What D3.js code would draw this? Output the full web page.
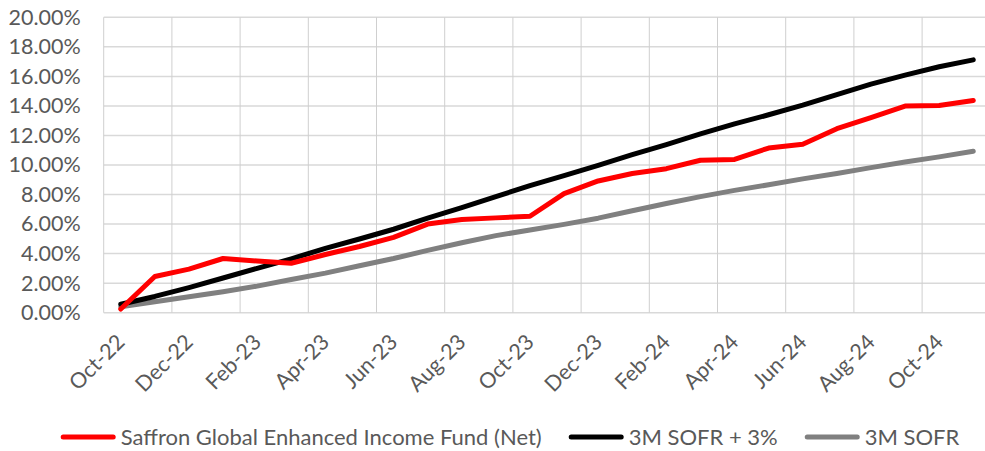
<!DOCTYPE html>
<html>
  <head>
    <title>Saffron vs SOFR</title>
    <style>
      body { margin: 0; background: #fff; }
      text { font-family: Lato, 'Open Sans', sans-serif; fill: #595959; }
    </style>
  </head>
  <body>
    <script src="https://cdnjs.cloudflare.com/ajax/libs/d3/7.8.5/d3.min.js"></script>
    <script>
      let months = ['Oct-22', 'Nov-22', 'Dec-22', 'Jan-23', 'Feb-23', 'Mar-23', 'Apr-23', 'May-23',
                    'Jun-23', 'Jul-23', 'Aug-23', 'Sep-23', 'Oct-23', 'Nov-23', 'Dec-23', 'Jan-24',
                    'Feb-24', 'Mar-24', 'Apr-24', 'May-24', 'Jun-24', 'Jul-24', 'Aug-24', 'Sep-24',
                    'Oct-24', 'Nov-24'];

      // cumulative returns, in %
      let fund = [0.25, 2.45, 2.95, 3.67, 3.5, 3.35, 3.94, 4.48, 5.1, 6.0, 6.31, 6.42, 6.53,
                  8.06, 8.92, 9.42, 9.75, 10.32, 10.38, 11.15, 11.4, 12.46, 13.2, 13.99, 14.03, 14.37];
      let sofrPlus = [0.57, 1.1, 1.7, 2.35, 3.0, 3.65, 4.35, 4.99, 5.65, 6.4, 7.12, 7.86, 8.6,
                      9.28, 9.98, 10.7, 11.38, 12.1, 12.78, 13.4, 14.05, 14.77, 15.48, 16.08, 16.65, 17.12];
      let sofr = [0.4, 0.74, 1.08, 1.42, 1.8, 2.25, 2.68, 3.18, 3.67, 4.22, 4.74, 5.22, 5.6,
                  5.98, 6.4, 6.9, 7.39, 7.86, 8.28, 8.66, 9.06, 9.42, 9.82, 10.2, 10.55, 10.93];

      let yTicks = [0, 2, 4, 6, 8, 10, 12, 14, 16, 18, 20];

      let series = [
        { name: 'Saffron Global Enhanced Income Fund (Net)', values: fund, color: '#ff0000' },
        { name: '3M SOFR + 3%', values: sofrPlus, color: '#000000' },
        { name: '3M SOFR', values: sofr, color: '#808080' }
      ];

      let width = 985, height = 451;
      let plotLeft = 103.7, plotRight = 990.3, plotTop = 17.3, plotBottom = 312.7;

      let svg = d3.select('body')
                  .append('svg')
                  .attr('width', width)
                  .attr('height', height);

      let xScale = d3.scaleBand()
                     .domain(months)
                     .range([plotLeft, plotRight])
                     .padding(0);

      let yScale = d3.scaleLinear()
                     .domain([0, 20])
                     .range([plotBottom, plotTop]);

      let cx = (m) => xScale(m) + xScale.bandwidth() / 2;

      // horizontal gridlines
      svg.append('g')
         .selectAll('line')
         .data(yTicks)
         .enter()
           .append('line')
           .attr('x1', plotLeft)
           .attr('x2', plotRight)
           .attr('y1', (d) => yScale(d))
           .attr('y2', (d) => yScale(d))
           .attr('stroke', '#d9d9d9')
           .attr('stroke-width', 1.5);

      // vertical gridlines every 2 months
      let vLines = months.filter((m, i) => i % 2 == 0);
      svg.append('g')
         .selectAll('line')
         .data(vLines)
         .enter()
           .append('line')
           .attr('x1', (d) => xScale(d))
           .attr('x2', (d) => xScale(d))
           .attr('y1', plotTop)
           .attr('y2', plotBottom)
           .attr('stroke', '#cfcfcf')
           .attr('stroke-width', 1);

      // y axis labels
      let yAxis = d3.axisLeft(yScale)
                    .tickValues(yTicks)
                    .tickSize(0)
                    .tickPadding(23)
                    .tickFormat((d) => d.toFixed(2) + '%');
      let yG = svg.append('g')
                  .attr('transform', 'translate(' + plotLeft + ',0)')
                  .call(yAxis);
      yG.select('.domain').remove();
      yG.selectAll('text')
        .style('font-size', '21.5px')
        .style('font-family', 'Lato, sans-serif')
        .attr('fill', '#595959');

      // x labels
      svg.append('g')
         .selectAll('text')
         .data(vLines)
         .enter()
           .append('text')
           .attr('transform', (d) => 'translate(' + cx(d) + ',338) rotate(-45)')
           .attr('text-anchor', 'end')
           .attr('dy', '0.35em')
           .style('font-size', '21.5px')
           .text((d) => d);

      let line = d3.line()
                   .x((d, i) => cx(months[i]))
                   .y((d) => yScale(d));

      // draw grey first so the fund sits on top
      [series[2], series[1], series[0]].forEach((s) => {
        svg.append('path')
           .attr('d', line(s.values))
           .attr('fill', 'none')
           .attr('stroke', s.color)
           .attr('stroke-width', 5)
           .attr('stroke-linecap', 'round')
           .attr('stroke-linejoin', 'round');
      });

      // legend
      let legend = svg.append('g');
      let lx = 0;
      series.forEach((s) => {
        let g = legend.append('g').attr('transform', 'translate(' + lx + ',0)');
        g.append('line')
         .attr('x1', 2.5).attr('x2', 52.5)
         .attr('y1', 0).attr('y2', 0)
         .attr('stroke', s.color)
         .attr('stroke-width', 5)
         .attr('stroke-linecap', 'round');
        let t = g.append('text')
                 .attr('x', 60)
                 .attr('dy', '0.35em')
                 .style('font-size', '22px')
                 .text(s.name);
        lx += 60 + t.node().getComputedTextLength() + 27;
      });
      let legendW = lx - 27;
      legend.attr('transform', 'translate(' + (510 - legendW / 2) + ',437)');
    </script>
  </body>
</html>
